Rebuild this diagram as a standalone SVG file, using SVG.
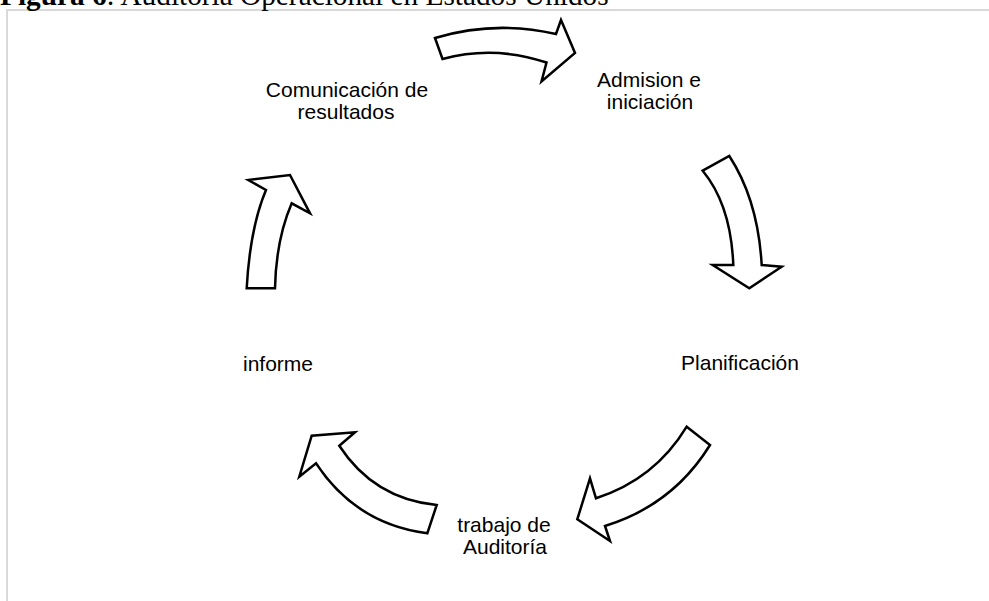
<svg xmlns="http://www.w3.org/2000/svg" width="989" height="601" viewBox="0 0 989 601">
<style>
.lbl{font-family:"Liberation Sans",Arial,sans-serif;font-size:21px;fill:#000;text-anchor:middle}
.arr{fill:#fff;stroke:#000;stroke-width:2.5;stroke-linejoin:miter}
.ttl{font-family:"Liberation Serif","Times New Roman",serif;font-size:29.3px;fill:#000}
</style>
<rect x="7" y="10" width="1000" height="620" fill="#fff" stroke="#d9d9d9" stroke-width="2"/>
<text class="ttl" x="0" y="5"><tspan font-weight="bold">Figura 6</tspan>: Auditoria Operacional en Estados Unidos</text>
<g id="connectors">
<path class="arr" d="M435 38 L442.5 59 Q494 45 546.5 62.5 L541.5 81.5 L575 53 L561 20 L556 34 Q495 20 435 38 Z"/>
<path class="arr" d="M702.7 170.7 L729.3 156 Q758 200 761.7 265 L781.7 266.7 L749.3 288.3 L712.7 265 L733.3 265 Q731 205 702.7 170.7 Z"/>
<path class="arr" d="M686.7 426.7 L710 445 Q673 505 605 526 L610 541 L577.3 519.3 L590 478.3 L596 498.3 Q654.7 479.5 686.7 426.7 Z"/>
<path class="arr" d="M436.7 505 L427.3 533.3 Q356 524 316 463.3 L299.3 476.7 L311.7 435.7 L355 432.3 L339.3 445.7 Q373.8 498.7 436.7 505 Z"/>
<path class="arr" d="M246.7 288.3 L275 288.3 Q276 240 291.7 203.3 L310 213.3 L290 175 L248.3 180 L266 190 Q250 228 246.7 288.3 Z"/>
</g>
<g id="admision"><text class="lbl" x="649" y="86.5">Admision e</text><text class="lbl" x="650" y="109">iniciación</text></g>
<g id="planificacion"><text class="lbl" x="740" y="370">Planificación</text></g>
<g id="trabajo"><text class="lbl" x="504" y="532">trabajo de</text><text class="lbl" x="505" y="554">Auditoría</text></g>
<g id="informe"><text class="lbl" x="278" y="371">informe</text></g>
<g id="comunicacion"><text class="lbl" x="347" y="96.5">Comunicación de</text><text class="lbl" x="346" y="119">resultados</text></g>
</svg>
